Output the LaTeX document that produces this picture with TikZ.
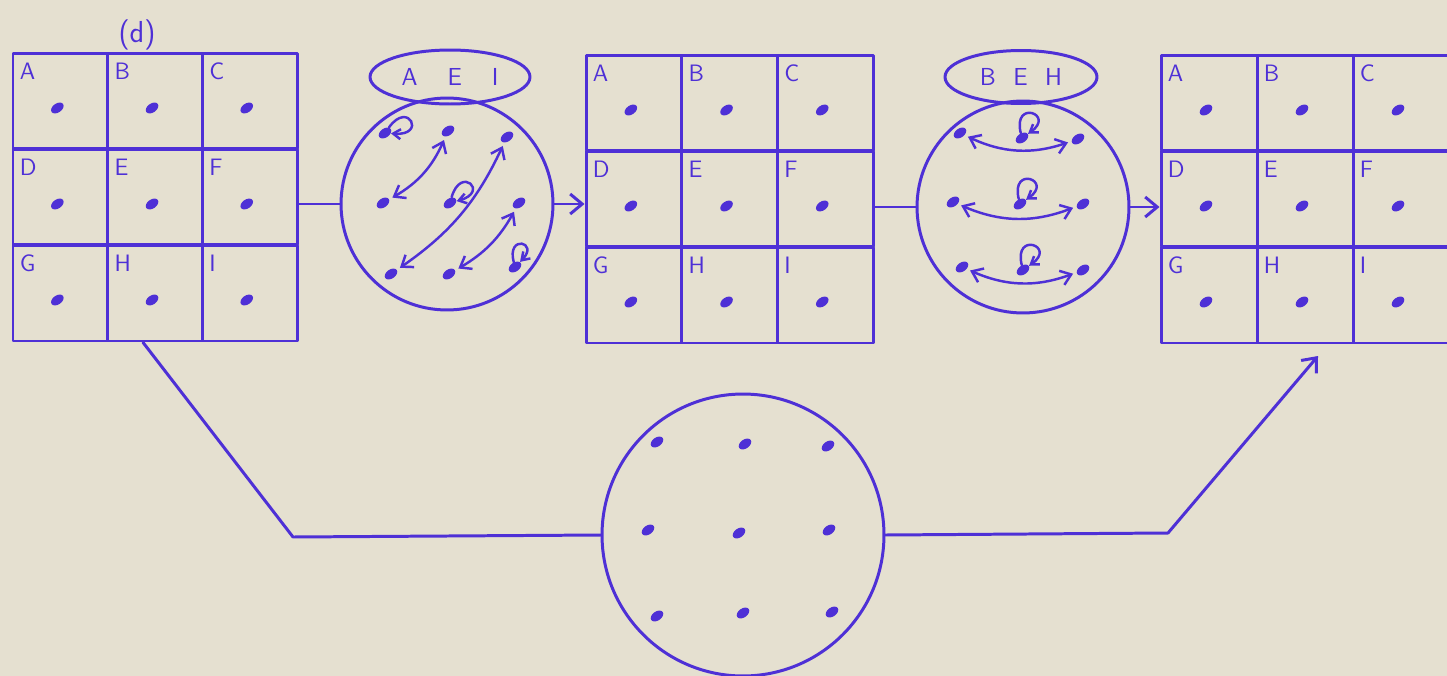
\documentclass[tikz,border=0pt]{standalone}
\usetikzlibrary{positioning,arrows.meta,shapes.geometric}
\definecolor{ink}{RGB}{78,48,214}
\definecolor{paper}{RGB}{229,224,208}

\tikzset{
  pen/.style={draw=ink,line width=1.7pt,line cap=round,line join=round},
  cell/.style={pen,minimum width=#1,minimum height=1.92cm,inner sep=0pt},
  tag/.style={text=ink,font=\sffamily\fontsize{13.5}{16}\selectfont,inner sep=0pt},
  dot/.style={fill=ink,ellipse,minimum width=2.8mm,minimum height=1.8mm,inner sep=0pt,rotate=35},
  ring/.style={pen,circle,inner sep=0pt},
  lid/.style={pen,ellipse,inner sep=0pt,text=ink,font=\sffamily\fontsize{14}{16}\selectfont},
  swap/.style={pen,line width=1.4pt,
    {Straight Barb[length=2mm,width=3mm]}-{Straight Barb[length=2mm,width=3mm]},
    shorten <=2pt,shorten >=2pt},
  stay/.style={pen,line width=1.4pt,-{Straight Barb[length=1.5mm,width=2mm]},
    loop,looseness=14,min distance=3.4mm},
  flow/.style={pen,-{Straight Barb[length=2.4mm,width=4mm]}}
}

\begin{document}
\begin{tikzpicture}[x=0.02cm,y=-0.02cm]
  \useasboundingbox (0,0) rectangle (1447,676);
  \fill[paper] (0,0) rectangle (1447,676);

  % the three grids
  \foreach \g/\ox/\oy/\w in {1/13/53/94.7, 2/586/55/95.7, 3/1161/55/96}{
    \foreach \l [count=\i from 0] in {A,B,C,D,E,F,G,H,I}{
      \pgfmathtruncatemacro\r{\i/3}
      \pgfmathtruncatemacro\c{mod(\i,3)}
      \node[cell=\w*0.02cm] (g\g-\l) at (\ox+\c*\w+\w/2,\oy+\r*96+48) {};
      \node[tag,anchor=north west] at ([shift={(8,11)}]g\g-\l.north west) {\l};
      \node[dot] (g\g-\l-p) at ([shift={(-3,7)}]g\g-\l.center) {};
    }
  }
  \node[text=ink,font=\sffamily\LARGE] (title) at (137,35) {(d)};

  % first step: A E I stay
  \node[ring,minimum size=4.24cm] (c1) at (447,204) {};
  \node[lid,minimum width=3.2cm,minimum height=1.08cm] (e1) at (450,77)
    {A\hspace{6mm}E\hspace{6mm}I};
  \foreach \n/\x/\y in {1/385/133,2/448/131,3/507/137,4/383/203,5/450/203,
                        6/519/203,7/391/274,8/449/274,9/515/267}
    \node[dot] (a\n) at (\x,\y) {};
  \draw[swap] (a2) to[bend left=18] (a4);
  \draw[swap] (a3) to[bend left=15] (a7);
  \draw[swap] (a6) to[bend left=15] (a8);
  \draw (a1) edge[stay,out=50,in=-10] (a1);
  \draw (a5) edge[stay,out=70,in=10] (a5);
  \draw (a9) edge[stay,out=100,in=40] (a9);

  % second step: B E H stay
  \node[ring,minimum size=4.24cm] (c2) at (1023,207) {};
  \node[lid,minimum width=3.04cm,minimum height=1.06cm] (e2) at (1021,77)
    {B\hspace{3.5mm}E\hspace{3.5mm}H};
  \foreach \n/\x/\y in {1/960/133,2/1022/138,3/1078/139,4/953/202,5/1020/204,
                        6/1083/204,7/962/267,8/1023/270,9/1083/270}
    \node[dot] (b\n) at (\x,\y) {};
  \draw[swap] (b1) to[bend right=22] (b3);
  \draw[swap] (b4) to[bend right=22] (b6);
  \draw[swap] (b7) to[bend right=22] (b9);
  \draw (b2) edge[stay,out=100,in=30] (b2);
  \draw (b5) edge[stay,out=100,in=30] (b5);
  \draw (b8) edge[stay,out=100,in=30] (b8);

  % the direct way below
  \node[ring,minimum size=5.64cm] (c3) at (743,535) {};
  \foreach \n/\x/\y in {1/657/442,2/745/444,3/828/446,4/648/530,5/739/533,
                        6/829/530,7/657/616,8/743/613,9/832/612}
    \node[dot] (m\n) at (\x,\y) {};

  % connectors
  \coordinate (kneeL) at (293,537);
  \coordinate (kneeR) at (1168,533);
  \coordinate (tipR) at (1318,356);
  \draw[pen] (c1.west) -- (c1.west -| g1-F.east);
  \draw[flow] (c1.east) -- (c1.east -| g2-D.west);
  \draw[pen] (c2.west) -- (c2.west -| g2-F.east);
  \draw[flow] (c2.east) -- (c2.east -| g3-D.west);
  \draw[pen] ([xshift=-0.24cm]g1-H.south) -- (kneeL) -- (c3.west);
  \draw[flow] (c3.east) -- (kneeR) -- (tipR);
\end{tikzpicture}
\end{document}
